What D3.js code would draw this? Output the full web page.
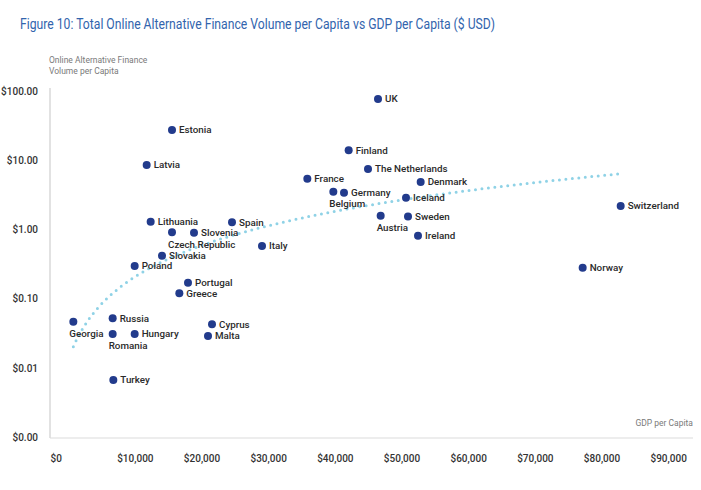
<!DOCTYPE html>
<html>
<head>
<meta charset="utf-8">
<script src="https://cdn.jsdelivr.net/npm/d3@7"></script>
<style>
  html, body { margin: 0; padding: 0; background: #fff; }
  svg { display: block; }
  text { font-family: Roboto, "Noto Sans", sans-serif; }
</style>
</head>
<body>
<div id="chart"></div>
<script>
// ---- data ----
const countries = ["Estonia","Latvia","Lithuania","Czech Republic","Slovenia","Spain","Italy","Slovakia","Poland","Portugal","Greece","Georgia","Russia","Romania","Hungary","Cyprus","Malta","Turkey","UK","Finland","The Netherlands","France","Belgium","Germany","Denmark","Iceland","Austria","Sweden","Ireland","Switzerland","Norway"];
const gdpPerCapita = [18300,14500,15100,18300,21600,27300,31800,16800,12700,20700,19400,3500,9400,9400,12700,24300,23700,9500,49200,44800,47700,38600,42500,44100,55600,53400,49600,53700,55200,85600,79900];
const volumePerCapita = [27.3,8.53,1.29,0.908,0.896,1.27,0.575,0.417,0.296,0.170,0.119,0.0464,0.0519,0.0308,0.0308,0.0425,0.0288,0.00666,76.6,13.9,7.46,5.41,3.51,3.39,4.84,2.87,1.58,1.53,0.811,2.18,0.280];
const labelsBelow = ["Georgia","Romania","Czech Republic","Belgium","Austria"];
const yTicks = [0.001,0.01,0.1,1,10,100];
const yTickLabels = ["$0.00","$0.01","$0.10","$1.00","$10.00","$100.00"];
const xTicks = [0,10000,20000,30000,40000,50000,60000,70000,80000,90000];
const xTickLabels = ["$0","$10,000","$20,000","$30,000","$40,000","$50,000","$60,000","$70,000","$80,000","$90,000"];
const title = "Figure 10: Total Online Alternative Finance Volume per Capita vs GDP per Capita ($ USD)";
const yTitle = ["Online Alternative Finance","Volume per Capita"];
const xTitle = "GDP per Capita";

// ---- chart ----
const W = 701, H = 490;
const svg = d3.select("#chart").append("svg").attr("width", W).attr("height", H);

const x = d3.scaleLinear().domain([0, 90000]).range([50, 650]);
const y = d3.scaleLog().domain([0.001, 100]).range([437, 91]);

// title
svg.append("text").attr("x", 20).attr("y", 29)
  .attr("font-size", 14).attr("fill", "#3264ad")
  .attr("textLength", 475).attr("lengthAdjust", "spacingAndGlyphs")
  .text(title);

// y title
yTitle.forEach((t, i) => {
  svg.append("text").attr("x", 49).attr("y", 63 + i * 11)
    .attr("font-size", 8.5).attr("fill", "#7a7a7a").text(t);
});

// axis lines
svg.append("line").attr("x1", 50).attr("x2", 50).attr("y1", 88).attr("y2", 438)
  .attr("stroke", "#cfcfcf").attr("stroke-width", 1.2);
svg.append("line").attr("x1", 50).attr("x2", 693).attr("y1", 438).attr("y2", 438)
  .attr("stroke", "#dcdcdc").attr("stroke-width", 1.2);

// y axis labels
const yAxis = d3.axisLeft(y).tickValues(yTicks).tickSize(0)
  .tickFormat((d, i) => yTickLabels[i]);
const gy = svg.append("g").attr("transform", "translate(38,0)").call(yAxis);
gy.select(".domain").remove();
gy.selectAll("text").attr("x", 0).attr("font-size", 10).attr("fill", "#333")
  .attr("font-weight", 500).attr("font-family", "Roboto, sans-serif");

// x axis labels (left aligned at tick)
const xAxis = d3.axisBottom(x).tickValues(xTicks).tickSize(0)
  .tickFormat((d, i) => xTickLabels[i]);
const gx = svg.append("g").attr("transform", "translate(0,455)").call(xAxis);
gx.select(".domain").remove();
gx.selectAll("text").attr("text-anchor", "start").attr("y", 0).attr("dy", "0.71em")
  .attr("font-size", 10).attr("fill", "#333").attr("font-weight", 500)
  .attr("font-family", "Roboto, sans-serif");

// x title
svg.append("text").attr("x", 693).attr("y", 426).attr("text-anchor", "end")
  .attr("font-size", 8.5).attr("fill", "#7a7a7a").text(xTitle);

// power trendline fitted from the data (ln y = ln a + b ln x)
const lx = gdpPerCapita.map(Math.log), ly = volumePerCapita.map(Math.log);
const mx = d3.mean(lx), my = d3.mean(ly);
const b = d3.sum(lx.map((v, i) => (v - mx) * (ly[i] - my))) / d3.sum(lx.map(v => (v - mx) ** 2));
const a = Math.exp(my - b * mx);
const [xmin, xmax] = d3.extent(gdpPerCapita);
const trend = d3.range(0, 201).map(i => {
  const gx_ = xmin + (xmax - xmin) * i / 200;
  return [gx_, a * Math.pow(gx_, b)];
});
svg.append("path").datum(trend)
  .attr("d", d3.line().x(d => x(d[0])).y(d => y(d[1])))
  .attr("fill", "none").attr("stroke", "#8fd2e6").attr("stroke-width", 3)
  .attr("stroke-linecap", "round").attr("stroke-dasharray", "0 6.5");

// points
const data = countries.map((c, i) => ({ c, g: gdpPerCapita[i], v: volumePerCapita[i] }));
svg.append("g").selectAll("circle").data(data).join("circle")
  .attr("cx", d => x(d.g)).attr("cy", d => y(d.v)).attr("r", 4)
  .attr("fill", "#223b8c");

// labels
svg.append("g").selectAll("text").data(data).join("text")
  .attr("x", d => labelsBelow.includes(d.c) ? x(d.g) - 4 : x(d.g) + 7)
  .attr("y", d => labelsBelow.includes(d.c) ? y(d.v) + 12 : y(d.v))
  .attr("dy", "0.35em")
  .attr("font-size", 9.8).attr("font-weight", 500).attr("fill", "#2a2a2a")
  .text(d => d.c);
</script>
</body>
</html>
